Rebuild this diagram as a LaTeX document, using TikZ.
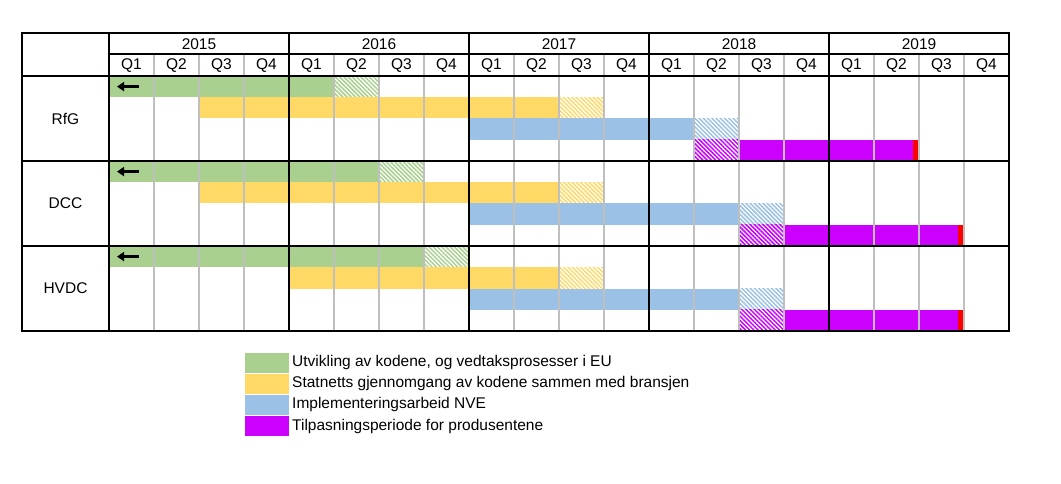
\documentclass[tikz,border=0pt]{standalone}
\usepackage{fontspec}
\setmainfont{Liberation Sans}
\usetikzlibrary{patterns.meta,arrows.meta}
\definecolor{cgreen}{HTML}{A9D08E}
\definecolor{cyellow}{HTML}{FFD966}
\definecolor{cblue}{HTML}{9BC2E6}
\definecolor{cpurple}{HTML}{CC00FF}
\definecolor{cred}{HTML}{FF0000}
\definecolor{cgrid}{HTML}{BFBFBF}
\tikzset{
  hatch/.style={pattern={Lines[angle=-45,distance=3pt,line width=1.5pt]},pattern color=#1},
  blackline/.style={line width=2pt,black},
  grayline/.style={line width=1.6pt,cgrid},
  lbl/.style={font=\fontsize{15.5}{15.5}\selectfont,inner sep=0pt},
}
% #1 row top y, #2 start quarter, #3 end quarter, #4 colour
\newcommand\solidbar[4]{\fill[#4] ({109+45*#2},{#1}) rectangle ({109+45*#3},{#1+21.25});}
\newcommand\hatchbar[3]{\fill[white] ({109+45*#2},{#1}) rectangle ({109+45*(#2+1)},{#1+21.25});
  \fill[hatch=#3] ({109+45*#2},{#1}) rectangle ({109+45*(#2+1)},{#1+21.25});}
\begin{document}
\begin{tikzpicture}[x=1pt,y=-1pt]
\useasboundingbox (0,0) rectangle (1061,484);
\fill[white] (0,0) rectangle (1061,484);
% ---------- bars ----------
% RfG (top 76)
\solidbar{76}{0}{5}{cgreen}\hatchbar{76}{5}{cgreen}
\solidbar{97.25}{2}{10}{cyellow}\hatchbar{97.25}{10}{cyellow}
\solidbar{118.5}{8}{13}{cblue}\hatchbar{118.5}{13}{cblue}
\hatchbar{139.75}{13}{cpurple}
\fill[cpurple] (739,139.75) rectangle (913,161);
\fill[cred] (913,139.75) rectangle (919,161);
% DCC (top 161)
\solidbar{161}{0}{6}{cgreen}\hatchbar{161}{6}{cgreen}
\solidbar{182.25}{2}{10}{cyellow}\hatchbar{182.25}{10}{cyellow}
\solidbar{203.5}{8}{14}{cblue}\hatchbar{203.5}{14}{cblue}
\hatchbar{224.75}{14}{cpurple}
\fill[cpurple] (784,224.75) rectangle (958,246);
\fill[cred] (958,224.75) rectangle (964,246);
% HVDC (top 246)
\solidbar{246}{0}{7}{cgreen}\hatchbar{246}{7}{cgreen}
\solidbar{267.25}{4}{10}{cyellow}\hatchbar{267.25}{10}{cyellow}
\solidbar{288.5}{8}{14}{cblue}\hatchbar{288.5}{14}{cblue}
\hatchbar{309.75}{14}{cpurple}
\fill[cpurple] (784,309.75) rectangle (958,331);
\fill[cred] (958,309.75) rectangle (964,331);
% ---------- grid ----------
\foreach \q in {1,2,3,5,6,7,9,10,11,13,14,15,17,18,19}
  \draw[grayline] ({109+45*\q},54) -- ({109+45*\q},331);
\foreach \xx in {289,469,649,829}
  \draw[blackline] (\xx,33) -- (\xx,331);
\draw[blackline] (109,33) -- (109,331);
\draw[blackline] (109,54) -- (1009,54);
\foreach \yy in {76,161,246}
  \draw[blackline] (22,\yy) -- (1009,\yy);
\draw[blackline] (22,33) rectangle (1009,331);
% ---------- arrows ----------
\foreach \yy [count=\i] in {86.6,171.6,256.6}{
  \coordinate (as\i) at (139,\yy);
  \coordinate (ae\i) at (117,\yy);
  \draw[line width=2.6pt,-{Triangle[length=7pt,width=9pt]}] (as\i) -- (ae\i);
}
% ---------- labels ----------
\foreach \yr [count=\i from 0] in {2015,2016,2017,2018,2019}
  \node[lbl] (y\yr) at ({199+180*\i},44) {\yr};
\foreach \q in {0,...,19}{
  \pgfmathtruncatemacro\qn{mod(\q,4)+1}
  \node[lbl] (q\q) at ({131.5+45*\q},65.5) {Q\qn};
}
\node[lbl] (rfg) at (65.5,118.5) {RfG};
\node[lbl] (dcc) at (65.5,203.5) {DCC};
\node[lbl] (hvdc) at (65.5,288.5) {HVDC};
% ---------- legend ----------
\fill[cgreen]  (245,352.5) rectangle (289,372.8);
\fill[cyellow] (245,373.8) rectangle (289,393.5);
\fill[cblue]   (245,394.8) rectangle (289,414.8);
\fill[cpurple] (245,416) rectangle (289,436);
\node[lbl,anchor=west] (l1) at (292,362.5) {Utvikling av kodene, og vedtaksprosesser i EU};
\node[lbl,anchor=west] (l2) at (292,383.6) {Statnetts gjennomgang av kodene sammen med bransjen};
\node[lbl,anchor=west] (l3) at (292,404.8) {Implementeringsarbeid NVE};
\node[lbl,anchor=west] (l4) at (292,426) {Tilpasningsperiode for produsentene};
\end{tikzpicture}
\end{document}
